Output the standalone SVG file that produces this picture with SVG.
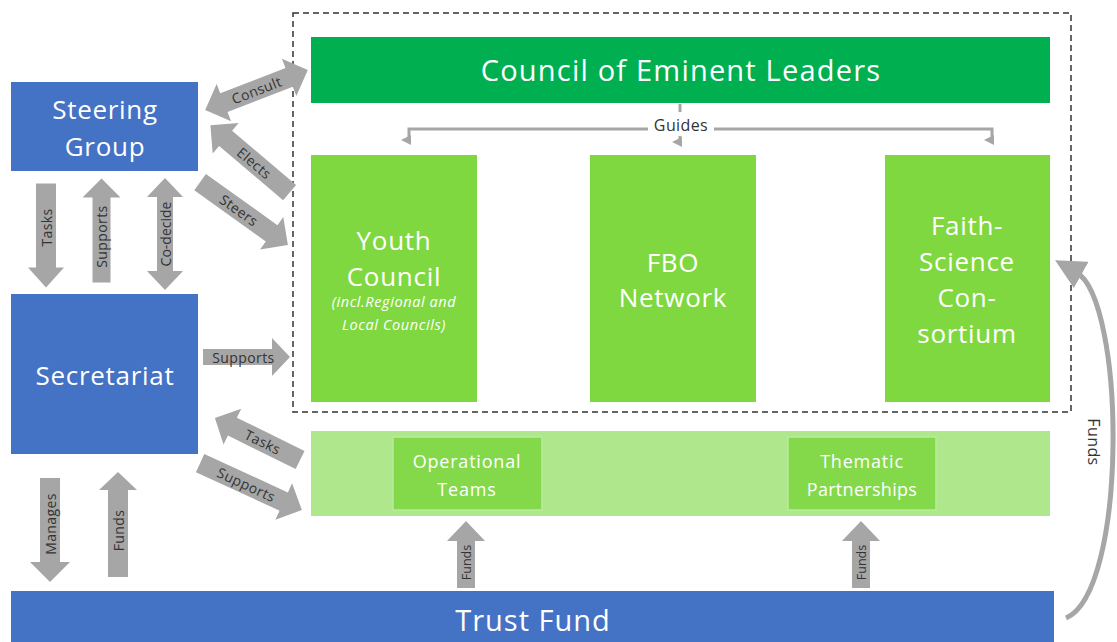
<svg xmlns="http://www.w3.org/2000/svg" width="1117" height="642" viewBox="0 0 1117 642">
<defs>
<style>
.blue{fill:#4472C4}
.dark{fill:#00B050}
.mid{fill:#7FD83F}
.band{fill:#AEE78C}
.sub{fill:#84D94B;stroke:#B9EC9C;stroke-width:1.5}
.t{font-family:"Open Sans","Noto Sans",sans-serif;fill:#ffffff;text-anchor:middle}
.big{font-size:26px;letter-spacing:0.7px}
.ar{fill:#A6A6A6}
.al{font-family:"Open Sans","Noto Sans",sans-serif;fill:#333333;font-size:14px;letter-spacing:0.4px;text-anchor:middle;dominant-baseline:central}
.ln{fill:none;stroke:#A6A6A6;stroke-width:3}
</style>
<marker id="dh" viewBox="0 0 10 10" refX="5" refY="2" markerWidth="10" markerHeight="10" markerUnits="userSpaceOnUse" orient="auto">
<path d="M0,0 L10,0 L5,10 Z" fill="#A6A6A6"/>
</marker>
<marker id="ch" viewBox="0 0 10 10" refX="2" refY="5" markerWidth="6" markerHeight="6" orient="auto">
<path d="M0,0 L10,5 L0,10 Z" fill="#A6A6A6"/>
</marker>
</defs>
<rect width="1117" height="642" fill="#ffffff"/>

<rect x="293" y="13" width="778" height="399" fill="none" stroke="#333" stroke-width="1.5" stroke-dasharray="6 4"/>

<g id="council">
<rect class="dark" x="311" y="37" width="739" height="66"/>
<text class="t" x="681" y="81" font-size="29" letter-spacing="1.2">Council of Eminent Leaders</text>
</g>

<g id="steering">
<rect class="blue" x="11" y="82" width="187" height="89"/>
<text class="t big" x="105" y="119">Steering</text>
<text class="t big" x="105" y="156">Group</text>
</g>

<g id="secretariat">
<rect class="blue" x="11" y="294" width="187" height="160"/>
<text class="t big" x="105" y="385">Secretariat</text>
</g>

<g id="trust">
<rect class="blue" x="11" y="591" width="1043" height="51"/>
<text class="t" x="533" y="631" font-size="29" letter-spacing="1">Trust Fund</text>
</g>

<g id="youth">
<rect class="mid" x="311" y="155" width="166" height="247"/>
<text class="t big" x="394" y="250">Youth</text>
<text class="t big" x="394" y="286">Council</text>
<text class="t" x="394" y="307" font-size="14.5" font-style="italic" letter-spacing="0.6">(incl.Regional and</text>
<text class="t" x="394" y="330" font-size="14.5" font-style="italic" letter-spacing="0.6">Local Councils)</text>
</g>

<g id="fbo">
<rect class="mid" x="590" y="155" width="166" height="247"/>
<text class="t big" x="673" y="272">FBO</text>
<text class="t big" x="673" y="307">Network</text>
</g>

<g id="fsc">
<rect class="mid" x="885" y="155" width="165" height="247"/>
<text class="t big" x="967" y="235">Faith-</text>
<text class="t big" x="967" y="271">Science</text>
<text class="t big" x="967" y="307">Con-</text>
<text class="t big" x="967" y="343">sortium</text>
</g>

<g id="band">
<rect class="band" x="311" y="431" width="739" height="85"/>
</g>

<g id="operational">
<rect class="sub" x="393" y="437" width="149" height="73"/>
<text class="t" x="467" y="468" font-size="18" letter-spacing="0.8">Operational</text>
<text class="t" x="467" y="496" font-size="18" letter-spacing="0.8">Teams</text>
</g>

<g id="thematic">
<rect class="sub" x="788" y="437" width="148" height="73"/>
<text class="t" x="862" y="468" font-size="18" letter-spacing="0.8">Thematic</text>
<text class="t" x="862" y="496" font-size="18" letter-spacing="0.3">Partnerships</text>
</g>

<g id="connectors">
<!-- Guides -->
<line class="ln" x1="680" y1="104" x2="680" y2="112" stroke-width="2"/>
<path class="ln" d="M648,129 H409 V140" marker-end="url(#dh)"/>
<path class="ln" d="M714,129 H992 V140" marker-end="url(#dh)"/>
<line class="ln" x1="680" y1="136" x2="680" y2="142" marker-end="url(#dh)"/>
<text class="al" x="681" y="125" style="font-size:16px">Guides</text>

<!-- Consult (double) -->
<g transform="translate(256.5,90) rotate(-21.2)">
<polygon class="ar" points="-55,0 -35,-20 -35,-10 35,-10 35,-20 55,0 35,20 35,10 -35,10 -35,20"/>
<text class="al" x="0" y="0">Consult</text>
</g>
<!-- Elects (left pointing) -->
<g transform="translate(250,159) rotate(40.4)">
<polygon class="ar" points="-52,0 -32,-20 -32,-10 52,-10 52,10 -32,10 -32,20"/>
<text class="al" x="6" y="0">Elects</text>
</g>
<!-- Steers (right pointing) -->
<g transform="translate(244,213.5) rotate(35.6)">
<polygon class="ar" points="-54,-10 34,-10 34,-20 54,0 34,20 34,10 -54,10"/>
<text class="al" x="-6" y="0">Steers</text>
</g>

<!-- Tasks down -->
<g transform="translate(46,235.5) rotate(-90)">
<polygon class="ar" points="-52,0 -32,-18 -32,-10 52,-10 52,10 -32,10 -32,18"/>
<text class="al" x="8" y="0">Tasks</text>
</g>
<!-- Supports up -->
<g transform="translate(101.5,230.5) rotate(-90)">
<polygon class="ar" points="-52,-9 33,-9 33,-19 52,0 33,19 33,9 -52,9"/>
<text class="al" x="-6" y="0">Supports</text>
</g>
<!-- Co-decide double -->
<g transform="translate(165,234) rotate(-90)">
<polygon class="ar" points="-56,0 -37,-18 -37,-8 37,-8 37,-18 56,0 37,18 37,8 -37,8 -37,18"/>
<text class="al" x="0" y="0" style="letter-spacing:0px">Co-decide</text>
</g>

<!-- Supports right -->
<g transform="translate(246.5,357)">
<polygon class="ar" points="-43.5,-8 25.5,-8 25.5,-19 43.5,0 25.5,19 25.5,8 -43.5,8"/>
<text class="al" x="-3" y="0">Supports</text>
</g>
<!-- Tasks lower (up-left) -->
<g transform="translate(257.5,439) rotate(26.3)">
<polygon class="ar" points="-47.5,0 -28,-20 -28,-10 47.5,-10 47.5,10 -28,10 -28,20"/>
<text class="al" x="6" y="0">Tasks</text>
</g>
<!-- Supports lower (down-right) -->
<g transform="translate(251,486.5) rotate(24.7)">
<polygon class="ar" points="-56,-10 36,-10 36,-20 56,0 36,20 36,10 -56,10"/>
<text class="al" x="-5" y="0">Supports</text>
</g>

<!-- Manages down -->
<g transform="translate(50,530) rotate(-90)">
<polygon class="ar" points="-52,0 -32,-20 -32,-10 52,-10 52,10 -32,10 -32,20"/>
<text class="al" x="6" y="0">Manages</text>
</g>
<!-- Funds up -->
<g transform="translate(118,524.5) rotate(-90)">
<polygon class="ar" points="-52.5,-10 34.5,-10 34.5,-19 52.5,0 34.5,19 34.5,10 -52.5,10"/>
<text class="al" x="-6" y="0">Funds</text>
</g>
<!-- Funds to operational -->
<g transform="translate(466,554.5) rotate(-90)">
<polygon class="ar" points="-33.5,-9 13.5,-9 13.5,-19 33.5,0 13.5,19 13.5,9 -33.5,9"/>
<text class="al" x="-8" y="0" style="font-size:12.5px;letter-spacing:0px">Funds</text>
</g>
<!-- Funds to thematic -->
<g transform="translate(861,554.5) rotate(-90)">
<polygon class="ar" points="-33.5,-9 13.5,-9 13.5,-19 33.5,0 13.5,19 13.5,9 -33.5,9"/>
<text class="al" x="-8" y="0" style="font-size:12.5px;letter-spacing:0px">Funds</text>
</g>

<!-- Curved Funds -->
<path d="M1066,618 C1128,592 1126,300 1076,272" fill="none" stroke="#A6A6A6" stroke-width="5" marker-end="url(#ch)"/>
<text class="al" x="1094" y="442" style="font-size:16px" transform="rotate(90 1094 442)">Funds</text>
</g>
</svg>
